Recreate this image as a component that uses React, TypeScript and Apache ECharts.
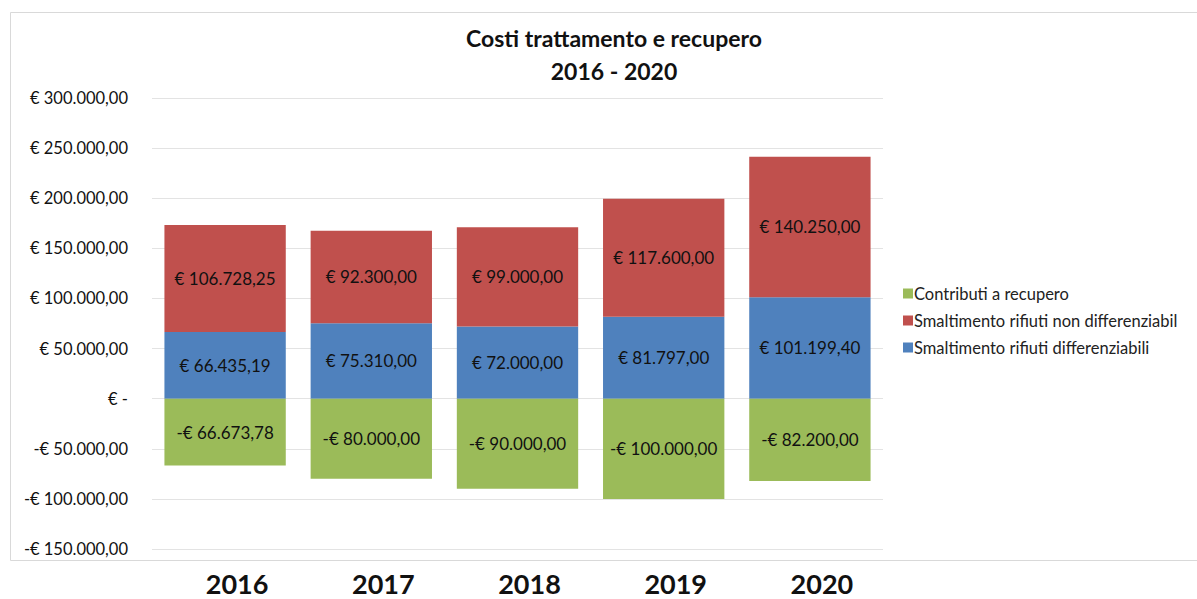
import React, { useEffect, useRef } from "react";
import * as echarts from "echarts";

const years = ["2016", "2017", "2018", "2019", "2020"];
const differenziabili = [66435.19, 75310.0, 72000.0, 81797.0, 101199.4];
const nonDifferenziabili = [106728.25, 92300.0, 99000.0, 117600.0, 140250.0];
const contributi = [-66673.78, -80000.0, -90000.0, -100000.0, -82200.0];
const seriesNames = [
  "Contributi a recupero",
  "Smaltimento rifiuti non differenziabil",
  "Smaltimento rifiuti differenziabili",
];
const titleLines = ["Costi trattamento e recupero", "2016 - 2020"];

const FONT = "Lato, 'Open Sans', sans-serif";

function fmtNum(v: number): string {
  const abs = Math.abs(v);
  const fixed = abs.toFixed(2);
  const [intPart, dec] = fixed.split(".");
  const withDots = intPart.replace(/\B(?=(\d{3})+(?!\d))/g, ".");
  return `${withDots},${dec}`;
}
function fmtEuro(v: number): string {
  if (v === 0) return "€ -";
  return (v < 0 ? "-€ " : "€ ") + fmtNum(v);
}

export default function App() {
  const ref = useRef<HTMLDivElement>(null);
  useEffect(() => {
    if (!ref.current) return;
    const chart = echarts.init(ref.current, undefined, { renderer: "svg" });
    const labelStyle = {
      show: true,
      position: "inside" as const,
      color: "#111",
      fontSize: 17,
      fontFamily: FONT,
      formatter: (p: any) => fmtEuro(p.value),
    };
    chart.setOption({
      animation: false,
      backgroundColor: "#fff",
      textStyle: { fontFamily: FONT },
      title: {
        text: titleLines.join("\n"),
        left: 609,
        textAlign: "center",
        top: 16,
        textStyle: {
          fontFamily: FONT,
          fontSize: 23,
          fontWeight: "bold",
          color: "#111",
          lineHeight: 33,
        },
      },
      graphic: [
        {
          type: "rect",
          z: -10,
          shape: { x: 10.5, y: 12.5, width: 1200, height: 548 },
          style: { fill: "none", stroke: "#d9d9d9", lineWidth: 1 },
          silent: true,
        },
      ],
      legend: {
        orient: "vertical",
        left: 898,
        top: 280,
        itemWidth: 10,
        itemHeight: 10,
        itemGap: 10,
        icon: "rect",
        data: seriesNames,
        textStyle: { fontFamily: FONT, fontSize: 16.5, color: "#222", padding: [0, 0, 0, -4] },
      },
      grid: { left: 152, right: 1197 - 883, top: 98, bottom: 599 - 549, containLabel: false },
      xAxis: {
        type: "category",
        data: years,
        axisLine: { show: false },
        axisTick: { show: false },
        axisLabel: {
          fontFamily: FONT,
          fontSize: 27,
          fontWeight: "bold",
          color: "#111",
          margin: 22,
          lineHeight: 24,
          padding: [0, 0, 0, 24],
        },
      },
      yAxis: {
        type: "value",
        min: -150000,
        max: 300000,
        interval: 50000,
        axisLine: { show: false },
        axisTick: { show: false },
        splitLine: { lineStyle: { color: "#e3e3e3", width: 1 } },
        axisLabel: {
          fontFamily: FONT,
          fontSize: 16.5,
          color: "#111",
          margin: 24,
          formatter: (v: number) => fmtEuro(v),
        },
      },
      series: [
        {
          name: seriesNames[2],
          type: "bar",
          stack: "total",
          barCategoryGap: "17%",
          data: differenziabili,
          itemStyle: { color: "#4F81BD" },
          label: labelStyle,
        },
        {
          name: seriesNames[1],
          type: "bar",
          stack: "total",
          barCategoryGap: "17%",
          data: nonDifferenziabili,
          itemStyle: { color: "#C0504D" },
          label: labelStyle,
        },
        {
          name: seriesNames[0],
          type: "bar",
          stack: "total",
          barCategoryGap: "17%",
          data: contributi,
          itemStyle: { color: "#9BBB59" },
          label: labelStyle,
        },
      ],
    });
    return () => chart.dispose();
  }, []);
  return (
    <div
      ref={ref}
      style={{ position: "absolute", left: 0, top: 0, width: 1197, height: 599 }}
    />
  );
}
